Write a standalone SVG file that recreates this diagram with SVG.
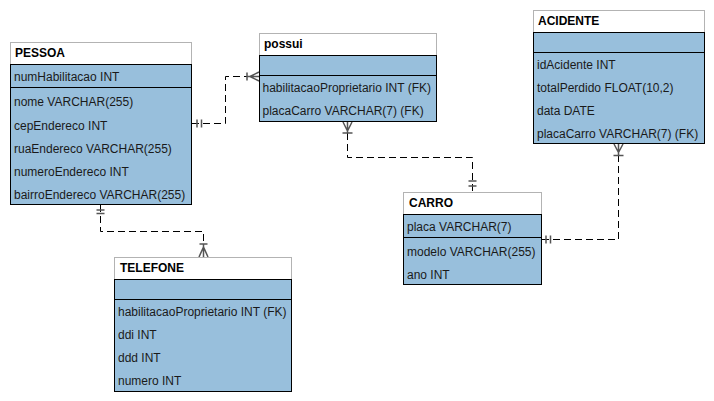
<svg xmlns="http://www.w3.org/2000/svg" width="714" height="401" viewBox="0 0 714 401">
<style>
.hdr{fill:#ffffff;stroke:#b3b3b3;stroke-width:1}
.body{fill:#98bfdc;stroke:#000000;stroke-width:1}
.sep{stroke:#000000;stroke-width:1}
.title{font-family:"Liberation Sans",Arial,sans-serif;font-size:12px;font-weight:bold;fill:#000000}
.row{font-family:"Liberation Sans",Arial,sans-serif;font-size:12px;fill:#1a1a1a}
.conn{fill:none;stroke:#000000;stroke-width:1;stroke-dasharray:7,4}
.mark{fill:none;stroke:#555555;stroke-width:1.5}
</style>
<rect width="714" height="401" fill="#ffffff"/>
<g id="connectors">
<path class="conn" d="M192,123.5 H225.5 V76.5 H259"/>
<path class="mark" d="M197,119.5 V127.5 M201.5,119.5 V127.5"/>
<path class="mark" d="M247,72.5 V80.5 M250,76.5 L259,72 M250,76.5 L259,81 M247,76.5 H259"/>
<path class="conn" d="M100.5,205 V231.5 H203.5 V257"/>
<path class="mark" d="M96.5,210 H104.5 M96.5,213.5 H104.5"/>
<path class="mark" d="M199.5,244 H207.5 M203.5,247 L199,257 M203.5,247 L208,257 M203.5,244 V257"/>
<path class="conn" d="M347.5,122 V157.5 H472.5 V192"/>
<path class="mark" d="M342.5,133 H352.5 M347.5,131 L343,122 M347.5,131 L352,122 M347.5,122 V133"/>
<path class="mark" d="M468.5,181 H476.5 M468.5,186 H476.5"/>
<path class="conn" d="M618.5,144 V239.5 H542"/>
<path class="mark" d="M613.5,155.5 H623.5 M618.5,152.5 L614,144 M618.5,152.5 L623,144 M618.5,144 V155.5"/>
<path class="mark" d="M546,235.5 V243.5 M550.5,235.5 V243.5"/>
</g>
<g id="PESSOA">
<rect class="hdr" x="10.5" y="42.5" width="181" height="22"/>
<rect class="body" x="10.5" y="64.5" width="181" height="140"/>
<line class="sep" x1="10.5" y1="87.5" x2="191.5" y2="87.5"/>
<text class="title" x="15" y="57">PESSOA</text>
<text class="row" x="14" y="80.5">numHabilitacao INT</text>
<text class="row" x="14" y="106">nome VARCHAR(255)</text>
<text class="row" x="14" y="129.5">cepEndereco INT</text>
<text class="row" x="14" y="152.5">ruaEndereco VARCHAR(255)</text>
<text class="row" x="14" y="175.5">numeroEndereco INT</text>
<text class="row" x="14" y="198.5">bairroEndereco VARCHAR(255)</text>
</g>
<g id="possui">
<rect class="hdr" x="259.5" y="33.5" width="177" height="22"/>
<rect class="body" x="259.5" y="55.5" width="177" height="66"/>
<line class="sep" x1="259.5" y1="75.5" x2="436.5" y2="75.5"/>
<text class="title" x="264" y="48">possui</text>
<text class="row" x="262.5" y="91.5">habilitacaoProprietario INT (FK)</text>
<text class="row" x="262.5" y="114.5">placaCarro VARCHAR(7) (FK)</text>
</g>
<g id="ACIDENTE">
<rect class="hdr" x="533.5" y="10.5" width="171" height="22"/>
<rect class="body" x="533.5" y="32.5" width="171" height="111"/>
<line class="sep" x1="533.5" y1="52.5" x2="704.5" y2="52.5"/>
<text class="title" x="538" y="25">ACIDENTE</text>
<text class="row" x="537" y="68.5">idAcidente INT</text>
<text class="row" x="537" y="92">totalPerdido FLOAT(10,2)</text>
<text class="row" x="537" y="115">data DATE</text>
<text class="row" x="537" y="138">placaCarro VARCHAR(7) (FK)</text>
</g>
<g id="CARRO">
<rect class="hdr" x="403.5" y="192.5" width="138" height="22"/>
<rect class="body" x="403.5" y="214.5" width="138" height="70"/>
<line class="sep" x1="403.5" y1="237.5" x2="541.5" y2="237.5"/>
<text class="title" x="409" y="207">CARRO</text>
<text class="row" x="407" y="230.5">placa VARCHAR(7)</text>
<text class="row" x="407" y="256">modelo VARCHAR(255)</text>
<text class="row" x="407" y="279">ano INT</text>
</g>
<g id="TELEFONE">
<rect class="hdr" x="114.5" y="257.5" width="177" height="22"/>
<rect class="body" x="114.5" y="279.5" width="177" height="112"/>
<line class="sep" x1="114.5" y1="299.5" x2="291.5" y2="299.5"/>
<text class="title" x="120" y="272">TELEFONE</text>
<text class="row" x="118" y="315.5">habilitacaoProprietario INT (FK)</text>
<text class="row" x="118" y="339">ddi INT</text>
<text class="row" x="118" y="362">ddd INT</text>
<text class="row" x="118" y="385">numero INT</text>
</g>
</svg>
